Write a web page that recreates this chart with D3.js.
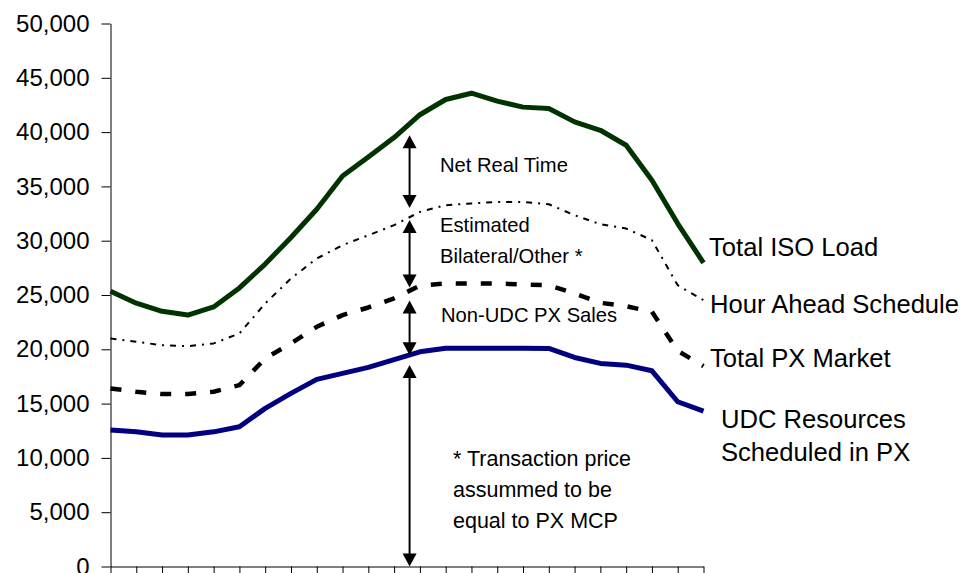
<!DOCTYPE html>
<html>
<head>
<meta charset="utf-8">
<script src="https://cdn.jsdelivr.net/npm/d3@7"></script>
<style>
  body { margin: 0; background: #fff; }
  svg { display: block; font-family: "Liberation Sans", Arial, sans-serif; }
</style>
</head>
<body>
<svg id="chart" width="962" height="573"></svg>
<script>
// hours of the day (category axis)
let hours = [1, 2, 3, 4, 5, 6, 7, 8, 9, 10, 11, 12, 13, 14, 15, 16, 17, 18, 19, 20, 21, 22, 23, 24];

// MW values
let totalIsoLoad = [25350, 24250, 23500, 23150, 23900, 25650, 27850, 30300, 32900, 35950, 37700, 39500,
                    41600, 43000, 43580, 42850, 42300, 42170, 40940, 40170, 38790, 35570, 31580, 27960];
let hourAhead    = [21000, 20690, 20380, 20290, 20540, 21460, 24220, 26520, 28360, 29590, 30500, 31430,
                    32650, 33270, 33430, 33570, 33570, 33360, 32350, 31520, 31120, 30050, 25900, 24530];
let totalPx      = [16400, 16090, 15880, 15880, 16090, 16700, 19160, 20540, 22070, 23150, 23850, 24700,
                    25850, 26060, 26060, 26060, 25970, 25900, 25140, 24280, 23970, 23450, 19860, 18450];
let udcResources = [12560, 12400, 12100, 12100, 12400, 12870, 14560, 15940, 17230, 17780, 18330, 19050,
                    19770, 20100, 20100, 20100, 20100, 20080, 19250, 18700, 18540, 18020, 15170, 14310];

let yTicks = [0, 5000, 10000, 15000, 20000, 25000, 30000, 35000, 40000, 45000, 50000];

// annotation arrows (value ranges) and their labels
let arrowHour = 12.6;
let arrowRanges = [[39700, 33000], [31900, 25700], [24500, 19450], [18550, 0]];

let seriesLabels = [
    {lines: ["Total ISO Load"], x: 709, y: 256},
    {lines: ["Hour Ahead Schedule"], x: 710, y: 313},
    {lines: ["Total PX Market"], x: 710, y: 367},
    {lines: ["UDC Resources", "Scheduled in PX"], x: 721, y: 428}
];
let noteLabels = [
    {lines: ["Net Real Time"], x: 440, y: 172},
    {lines: ["Estimated", "Bilateral/Other *"], x: 440, y: 232},
    {lines: ["Non-UDC PX Sales"], x: 441, y: 322}
];
let footNote = [
    {lines: ["* Transaction price", "assummed to be", "equal to PX MCP"], x: 453, y: 466}
];

let svg = d3.select("#chart");

let x = d3.scaleLinear().domain([1, 24]).range([110.5, 703.5]);
let y = d3.scaleLinear().domain([0, 50000]).range([566.5, 23.5]);

// axes
let yAxis = d3.axisLeft(y)
    .tickValues(yTicks)
    .tickSize(9)
    .tickSizeOuter(0)
    .tickPadding(12)
    .tickFormat(d3.format(","));
let gy = svg.append("g").attr("transform", "translate(110.5,0)").call(yAxis);
gy.selectAll("text").attr("font-size", 24).attr("fill", "#000")
    .attr("font-family", "Liberation Sans, Arial, sans-serif");
gy.selectAll("line, path").attr("stroke", "#000");

let xAxis = d3.axisBottom(x)
    .tickValues(hours)
    .tickSize(8)
    .tickSizeOuter(0)
    .tickFormat("");
let gx = svg.append("g").attr("transform", "translate(0,566.5)").call(xAxis);
gx.selectAll("line, path").attr("stroke", "#000");

// lines
let line = d3.line()
    .x((d, i) => x(hours[i]))
    .y(d => y(d));

let series = [
    {data: totalIsoLoad, color: "#003300", width: 5, dash: null},
    {data: hourAhead, color: "#000", width: 2, dash: "6 6 2 6"},
    {data: totalPx, color: "#000", width: 4.5, dash: "11 14"},
    {data: udcResources, color: "#000080", width: 5, dash: null}
];

for (let s of series) {
    svg.append("path")
        .datum(s.data)
        .attr("d", line)
        .attr("fill", "none")
        .attr("stroke", s.color)
        .attr("stroke-width", s.width)
        .attr("stroke-dasharray", s.dash)
        .attr("stroke-linejoin", "round");
}

// double headed arrows
function arrowHead(px, py, dir) {
    // dir = -1 tip points up, 1 tip points down
    let h = 13, w = 7;
    return "M" + px + "," + py +
        "L" + (px - w) + "," + (py - dir * h) +
        "L" + (px + w) + "," + (py - dir * h) + "Z";
}

let ax = x(arrowHour);
for (let r of arrowRanges) {
    let yTop = y(r[0]), yBot = y(r[1]);
    svg.append("line")
        .attr("x1", ax).attr("x2", ax)
        .attr("y1", yTop + 10).attr("y2", yBot - 10)
        .attr("stroke", "#000")
        .attr("stroke-width", 2);
    svg.append("path").attr("d", arrowHead(ax, yTop, -1)).attr("fill", "#000");
    svg.append("path").attr("d", arrowHead(ax, yBot, 1)).attr("fill", "#000");
}

// text
function addText(items, size, gap) {
    for (let t of items) {
        let txt = svg.append("text")
            .attr("x", t.x)
            .attr("y", t.y)
            .attr("font-size", size)
            .attr("fill", "#000");
        t.lines.forEach((l, i) => {
            txt.append("tspan").attr("x", t.x).attr("y", t.y + i * gap).text(l);
        });
    }
}

addText(seriesLabels, 25.6, 33);
addText(noteLabels, 20.2, 31);
addText(footNote, 21.5, 31);
</script>
</body>
</html>
